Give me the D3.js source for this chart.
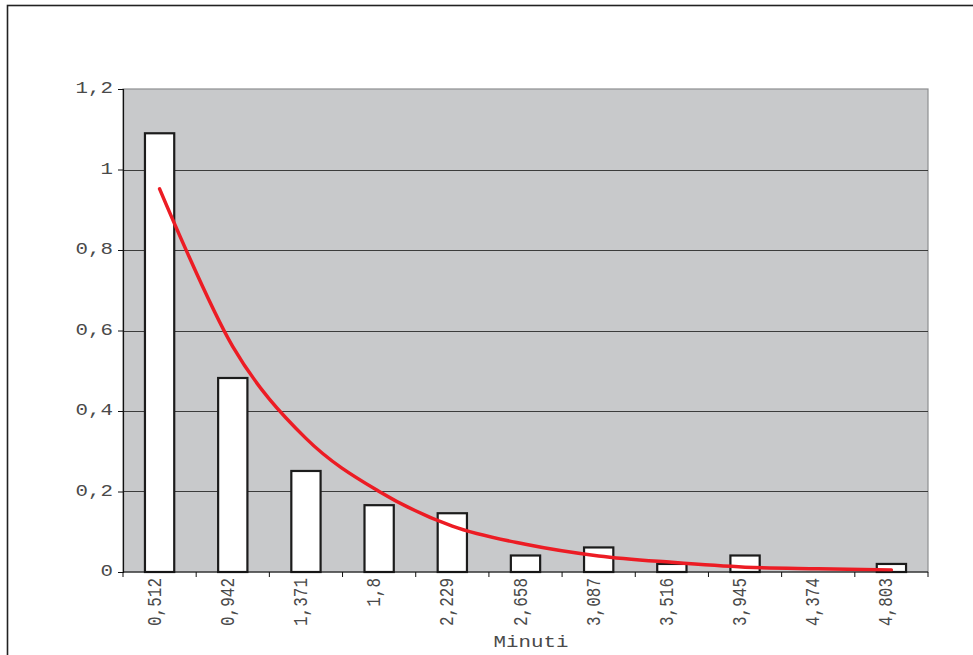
<!DOCTYPE html>
<html>
<head>
<meta charset="utf-8">
<script src="https://cdn.jsdelivr.net/npm/d3@7/dist/d3.min.js"></script>
<style>
  html, body { margin: 0; padding: 0; background: #ffffff; }
  svg { display: block; }
  text { font-family: "Liberation Mono", "DejaVu Sans Mono", monospace; fill: #4a4a4a; }
</style>
</head>
<body>
<svg id="chart" width="973" height="655"></svg>
<script>
// Bin midpoints (minutes) shown on the category axis
const categories = ["0,512", "0,942", "1,371", "1,8", "2,229", "2,658", "3,087", "3,516", "3,945", "4,374", "4,803"];
// Observed density per bin (bars)
const barValues = [1.09, 0.482, 0.251, 0.166, 0.146, 0.041, 0.061, 0.02, 0.041, 0, 0.02];
// Fitted density at each bin midpoint (red line)
const curveValues = [0.952, 0.56, 0.332, 0.2, 0.114, 0.069, 0.04, 0.024, 0.012, 0.008, 0.005];
// Value-axis ticks and their labels
const yTicks = [0, 0.2, 0.4, 0.6, 0.8, 1, 1.2];
const yTickLabels = ["0", "0,2", "0,4", "0,6", "0,8", "1", "1,2"];
const xTitle = "Minuti";

const svg = d3.select("#chart");
const plot = { left: 123, right: 928, top: 89, bottom: 572 };
const textStretch = 1.3;

// Outer chart frame
svg.append("rect")
  .attr("x", 7.5).attr("y", 5.5)
  .attr("width", 1000).attr("height", 700)
  .attr("fill", "none").attr("stroke", "#222").attr("stroke-width", 1.6);

const x = d3.scaleBand().domain(categories).range([plot.left, plot.right]).padding(0);
const y = d3.scaleLinear().domain([0, 1.2]).range([plot.bottom, plot.top]);

// Plot area background
svg.append("rect")
  .attr("x", plot.left).attr("y", plot.top)
  .attr("width", plot.right - plot.left).attr("height", plot.bottom - plot.top)
  .attr("fill", "#c8c9cb")
  .attr("stroke", "#8e8f91").attr("stroke-width", 1.2);

// Horizontal gridlines
svg.append("g")
  .selectAll("line")
  .data(yTicks.filter(t => t > 0 && t < 1.2))
  .join("line")
  .attr("x1", plot.left).attr("x2", plot.right)
  .attr("y1", d => Math.round(y(d)) + 0.5).attr("y2", d => Math.round(y(d)) + 0.5)
  .attr("stroke", "#3c3c3c").attr("stroke-width", 1);

// Bars
const barW = x.bandwidth() * 0.4;
svg.append("g")
  .selectAll("rect")
  .data(categories.map((c, i) => ({ c, v: barValues[i] })).filter(d => d.v > 0))
  .join("rect")
  .attr("x", d => x(d.c) + x.bandwidth() / 2 - barW / 2)
  .attr("y", d => y(d.v))
  .attr("width", barW)
  .attr("height", d => y(0) - y(d.v))
  .attr("fill", "#ffffff")
  .attr("stroke", "#1c1c1c").attr("stroke-width", 2.2);

// Fitted curve (smoothed through the bin midpoints)
const line = d3.line()
  .x((d, i) => x(categories[i]) + x.bandwidth() / 2)
  .y(d => y(d))
  .curve(d3.curveCatmullRom.alpha(0));
svg.append("path")
  .datum(curveValues)
  .attr("d", line)
  .attr("fill", "none")
  .attr("stroke", "#ec1c24")
  .attr("stroke-width", 3.5)
  .attr("stroke-linecap", "round");

// Value axis
const yAxis = d3.axisLeft(y)
  .tickValues(yTicks)
  .tickSize(5)
  .tickPadding(5)
  .tickFormat((d, i) => yTickLabels[i]);
const gy = svg.append("g")
  .attr("transform", `translate(${plot.left},0)`)
  .call(yAxis);
gy.select(".domain").attr("stroke", "#111").attr("stroke-width", 1.2);
gy.selectAll(".tick line").attr("stroke", "#111");
gy.selectAll(".tick text")
  .attr("font-size", 16)
  .attr("x", null).attr("dy", null)
  .attr("text-anchor", "end")
  .attr("dominant-baseline", "central")
  .attr("transform", `translate(-10,0) scale(${textStretch},1)`);

// Category axis line and boundary ticks
const gx = svg.append("g");
gx.append("line")
  .attr("x1", plot.left).attr("x2", plot.right)
  .attr("y1", plot.bottom).attr("y2", plot.bottom)
  .attr("stroke", "#111").attr("stroke-width", 1.2);
const bounds = categories.map(c => x(c)).concat([plot.right]);
gx.selectAll("line.b")
  .data(bounds)
  .join("line")
  .attr("class", "b")
  .attr("x1", d => d).attr("x2", d => d)
  .attr("y1", plot.bottom).attr("y2", plot.bottom + 5)
  .attr("stroke", "#111").attr("stroke-width", 1);

// Rotated category labels
gx.selectAll("text")
  .data(categories)
  .join("text")
  .attr("font-size", 16)
  .attr("text-anchor", "end")
  .attr("transform", d => `translate(${x(d) + x.bandwidth() / 2 + 1},578) scale(${textStretch},1) rotate(-90)`)
  .text(d => d);

// Axis title
svg.append("text")
  .attr("font-size", 16)
  .attr("text-anchor", "middle")
  .attr("transform", `translate(531,647) scale(${textStretch},1)`)
  .text(xTitle);
</script>
</body>
</html>
